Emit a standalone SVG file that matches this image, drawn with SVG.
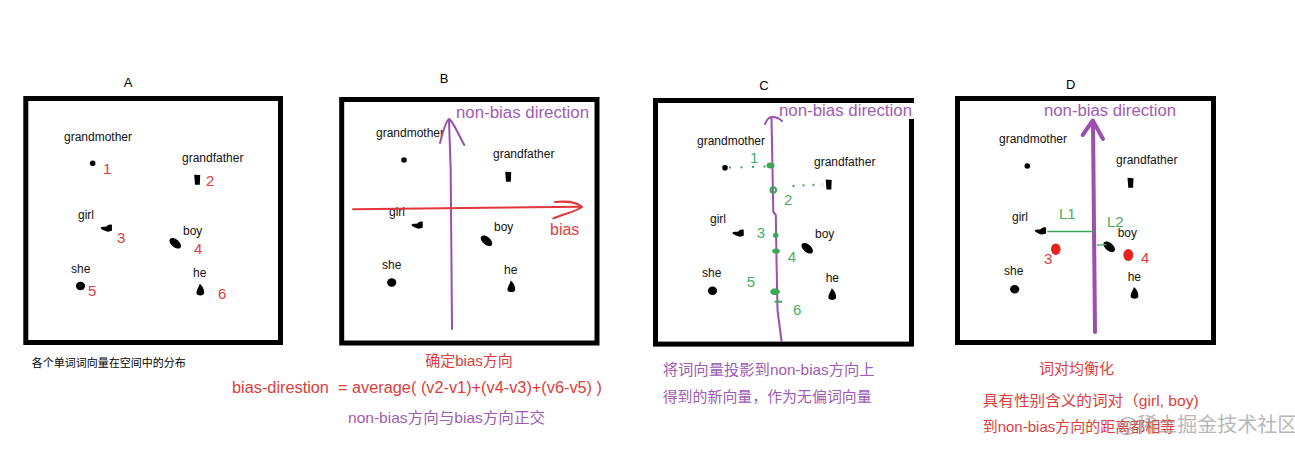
<svg xmlns="http://www.w3.org/2000/svg" xmlns:xlink="http://www.w3.org/1999/xlink" width="1295" height="452" viewBox="0 0 1295 452">
<style>
  text { font-family: "Liberation Sans", "Noto Sans CJK SC", sans-serif; }
  .frame { fill: #fff; stroke: #000; stroke-width: 5; }
  .title { font-size: 13px; fill: #000; text-anchor: middle; }
  .word { font-size: 12px; fill: #111; }
  .rnum { font-size: 15px; fill: #e03c3c; }
  .gnum { font-size: 15px; fill: #45b060; }
  .dir { font-size: 16px; fill: #a05cb4; }
  .cap-r { font-size: 15px; fill: #e03c3c; }
  .cap-p { font-size: 15px; fill: #a05cb4; }
  .cap-k { font-size: 11px; fill: #000; }
  .dot { fill: #000; }
  .pline { fill: none; stroke: #9b4fae; stroke-width: 2; stroke-linecap: round; stroke-linejoin: round; }
  .rline { fill: none; stroke: #e0383a; stroke-width: 2; stroke-linecap: round; stroke-linejoin: round; }
  .gdots { fill: none; stroke: #3aa757; stroke-width: 2; }
  .gline { fill: none; stroke: #3aa757; stroke-width: 1.3; }
  .gmark { fill: #3aa757; }
  .wm { font-size: 20px; fill: #9a9a9a; opacity: 0.7; }
</style>
<defs>
  <circle id="d-gm" r="2.8"/>
  <path id="d-gf" d="M-3,-5 L3,-4.6 L2.6,5 L-2.2,5 Z"/>
  <path id="d-girl" d="M-5.8,-0.5 C-4,-2 -1.5,-1 0,-1.5 C1.5,-3.5 3.5,-4 5.5,-3.3 L5.6,2.5 C3.5,4 0,4 -2,2.6 C-3.8,1.6 -5.8,1 -5.8,-0.5 Z"/>
  <ellipse id="d-boy" rx="6.8" ry="3.9" transform="rotate(40)"/>
  <ellipse id="d-she" rx="4.6" ry="4.2"/>
  <path id="d-he" d="M-0.5,-6.2 C1.5,-4.5 3.9,-1.5 3.9,3 C3.9,6.2 -3.9,6.2 -3.9,3 C-3.9,0 -1.5,-2.5 -0.5,-6.2 Z"/>
</defs>
<rect width="1295" height="452" fill="#fff"/>

<!-- Panel A -->
<g id="panel-A">
  <rect class="frame" x="25.8" y="98.5" width="254.7" height="244"/>
  <text class="title" x="128" y="87">A</text>
  <g id="A-grandmother"><text class="word" x="64" y="141">grandmother</text><use href="#d-gm" class="dot" x="92.7" y="163.3"/><text class="rnum" x="103" y="174">1</text></g>
  <g id="A-grandfather"><text class="word" x="182" y="162">grandfather</text><use href="#d-gf" class="dot" x="197.2" y="179.7"/><text class="rnum" x="206" y="186">2</text></g>
  <g id="A-girl"><text class="word" x="78" y="219">girl</text><use href="#d-girl" class="dot" x="106.4" y="228"/><text class="rnum" x="117" y="243">3</text></g>
  <g id="A-boy"><text class="word" x="183" y="235">boy</text><use href="#d-boy" class="dot" x="175.2" y="243.3"/><text class="rnum" x="194" y="254">4</text></g>
  <g id="A-she"><text class="word" x="71" y="273">she</text><use href="#d-she" class="dot" x="80.5" y="286"/><text class="rnum" x="88" y="296">5</text></g>
  <g id="A-he"><text class="word" x="193" y="277">he</text><use href="#d-he" class="dot" x="200.3" y="290"/><text class="rnum" x="218" y="299">6</text></g>
  <text class="cap-k" x="31.7" y="367">各个单词词向量在空间中的分布</text>
</g>

<!-- Panel B -->
<g id="panel-B">
  <rect class="frame" x="341.7" y="99.5" width="255.3" height="243.5"/>
  <text class="title" x="444" y="83">B</text>
  <g id="B-grandmother"><text class="word" x="376" y="137">grandmother</text><use href="#d-gm" class="dot" x="404" y="160"/></g>
  <g id="B-grandfather"><text class="word" x="493" y="158">grandfather</text><use href="#d-gf" class="dot" x="508.2" y="176.7"/></g>
  <g id="B-girl"><text class="word" x="389" y="216">girl</text><use href="#d-girl" class="dot" x="417.2" y="225"/></g>
  <g id="B-boy"><text class="word" x="494" y="231">boy</text><use href="#d-boy" class="dot" x="486.5" y="240.8"/></g>
  <g id="B-she"><text class="word" x="382" y="269">she</text><use href="#d-she" class="dot" x="391.7" y="282.5"/></g>
  <g id="B-he"><text class="word" x="504" y="274">he</text><use href="#d-he" class="dot" x="511.3" y="286.7"/></g>
  <text class="dir" x="456" y="117.5" textLength="133" lengthAdjust="spacingAndGlyphs">non-bias direction</text>
  <text class="rnum" x="550" y="235" style="font-size:16px">bias</text>
  <text class="cap-r" x="469" y="366" text-anchor="middle">确定bias方向</text>
  <text class="cap-r" x="232" y="393" style="font-size:16px;white-space:pre" textLength="370" lengthAdjust="spacingAndGlyphs" xml:space="preserve">bias-direstion  = average( (v2-v1)+(v4-v3)+(v6-v5) )</text>
  <text class="cap-p" x="348" y="423" textLength="197" lengthAdjust="spacingAndGlyphs">non-bias方向与bias方向正交</text>
</g>

<!-- Panel C -->
<g id="panel-C">
  <rect class="frame" x="655.5" y="100.5" width="256" height="243.6"/>
  <text class="title" x="764" y="90">C</text>
  <g id="C-grandmother"><text class="word" x="697" y="145">grandmother</text><use href="#d-gm" class="dot" x="725" y="167.7"/><text class="gnum" x="750" y="163">1</text></g>
  <g id="C-grandfather"><text class="word" x="814" y="166">grandfather</text><use href="#d-gf" class="dot" x="828.7" y="184.6"/><text class="gnum" x="784" y="205">2</text></g>
  <g id="C-girl"><text class="word" x="710" y="223">girl</text><use href="#d-girl" class="dot" x="738.2" y="233"/><text class="gnum" x="756.7" y="238">3</text></g>
  <g id="C-boy"><text class="word" x="815" y="238">boy</text><use href="#d-boy" class="dot" x="807.2" y="248.3"/><text class="gnum" x="787.7" y="262">4</text></g>
  <g id="C-she"><text class="word" x="702" y="277">she</text><use href="#d-she" class="dot" x="712.5" y="290.8"/><text class="gnum" x="746.7" y="287">5</text></g>
  <g id="C-he"><text class="word" x="825.7" y="282">he</text><use href="#d-he" class="dot" x="832.2" y="294.5"/><text class="gnum" x="793" y="315">6</text></g>
  <rect x="777" y="103" width="137" height="16" fill="#fff"/>
  <text class="dir" x="779" y="115.5" textLength="133" lengthAdjust="spacingAndGlyphs">non-bias direction</text>
  <text class="cap-p" x="662.7" y="375" textLength="212" lengthAdjust="spacingAndGlyphs">将词向量投影到non-bias方向上</text>
  <text class="cap-p" x="662.7" y="402" textLength="209" lengthAdjust="spacingAndGlyphs">得到的新向量，作为无偏词向量</text>
</g>

<!-- Panel D -->
<g id="panel-D">
  <rect class="frame" x="957.5" y="98.5" width="256" height="244"/>
  <text class="title" x="1070.7" y="89">D</text>
  <g id="D-grandmother"><text class="word" x="999" y="143">grandmother</text><use href="#d-gm" class="dot" x="1027.3" y="166"/></g>
  <g id="D-grandfather"><text class="word" x="1116" y="164">grandfather</text><use href="#d-gf" class="dot" x="1130.5" y="182.8"/></g>
  <g id="D-girl"><text class="word" x="1012" y="221">girl</text><use href="#d-girl" class="dot" x="1040.5" y="230.8"/></g>
  <g id="D-boy"><text class="word" x="1117.7" y="237">boy</text><use href="#d-boy" class="dot" x="1109.2" y="246.7"/></g>
  <g id="D-she"><text class="word" x="1004" y="275">she</text><use href="#d-she" class="dot" x="1014.7" y="289.2"/></g>
  <g id="D-he"><text class="word" x="1127.7" y="280.7">he</text><use href="#d-he" class="dot" x="1134.5" y="293.3"/></g>
  <g id="D-girl-balanced"><ellipse cx="1055.8" cy="249.2" rx="4.8" ry="5.8" fill="#e8231f"/><text class="rnum" x="1044" y="264">3</text></g>
  <g id="D-boy-balanced"><ellipse cx="1128.3" cy="255" rx="5" ry="6" fill="#e8231f"/><text class="rnum" x="1141" y="262.7">4</text></g>
  <text class="dir" x="1044" y="115.5" textLength="132" lengthAdjust="spacingAndGlyphs">non-bias direction</text>
  <text class="gnum" x="1059" y="219">L1</text>
  <text class="gnum" x="1107" y="227">L2</text>
  <text class="cap-r" x="1039" y="374" textLength="75" lengthAdjust="spacingAndGlyphs">词对均衡化</text>
  <text class="cap-r" x="982.7" y="406" textLength="216" lengthAdjust="spacingAndGlyphs">具有性别含义的词对（girl, boy)</text>
  <text class="cap-r" x="982.7" y="432">到non-bias方向的距离都相等</text>
</g>

<!-- Connectors -->
<g id="connectors">
  <!-- B: non-bias axis -->
  <path class="pline" d="M452,329 L450.7,170 L449,120"/>
  <path class="pline" d="M440,143 C443,131 446,121 449,119 C453,121 456,130 464.3,145"/>
  <!-- B: bias axis -->
  <path class="rline" d="M353,209.3 L581,206.7"/>
  <path class="rline" d="M555,202 C565,201 577,202 582,207 C575,212 563,214 553.3,218.3"/>
  <!-- C: non-bias axis -->
  <path class="pline" d="M771.5,118 L773.3,212 L775.8,215 L776.5,260 L777.5,310 L781.5,341"/>
  <path class="pline" d="M765,124 C767,119 770,117 772,117 C776,117 779,118 782,121"/>
  <!-- C: projection dotted lines -->
  <path class="gdots" d="M729,167.5 L768,166.5" stroke-dasharray="2 9.5"/>
  <path class="gdots" d="M792.5,186 L823,184.3" stroke-dasharray="2 8"/>
  <!-- C: projected points -->
  <ellipse class="gmark" cx="770.5" cy="165.5" rx="4" ry="3"/>
  <circle cx="773.3" cy="190" r="2.8" fill="none" stroke="#3aa757" stroke-width="2"/>
  <circle class="gmark" cx="775.7" cy="235.3" r="2.7"/>
  <ellipse class="gmark" cx="776" cy="251" rx="3.8" ry="2.6"/>
  <ellipse cx="775" cy="291.7" rx="4.3" ry="2.8" fill="#3aa757" stroke="#3aa757" stroke-width="1"/>
  <path d="M774.5,301.7 L782,301.7" stroke="#3aa757" stroke-width="2"/>
  <!-- D: non-bias axis (thick) -->
  <path class="pline" style="stroke-width:4" d="M1095,332 L1093,122"/>
  <path class="pline" style="stroke-width:4" d="M1082.7,135 L1092.8,120.5 L1103,139"/>
  <!-- D: distances -->
  <path class="gline" d="M1047.3,231.5 L1094,231.5"/>
  <path class="gline" d="M1096.7,245.2 L1106.7,244.6"/>
</g>

<text class="wm" x="1117" y="432">@稀土掘金技术社区</text>
</svg>
